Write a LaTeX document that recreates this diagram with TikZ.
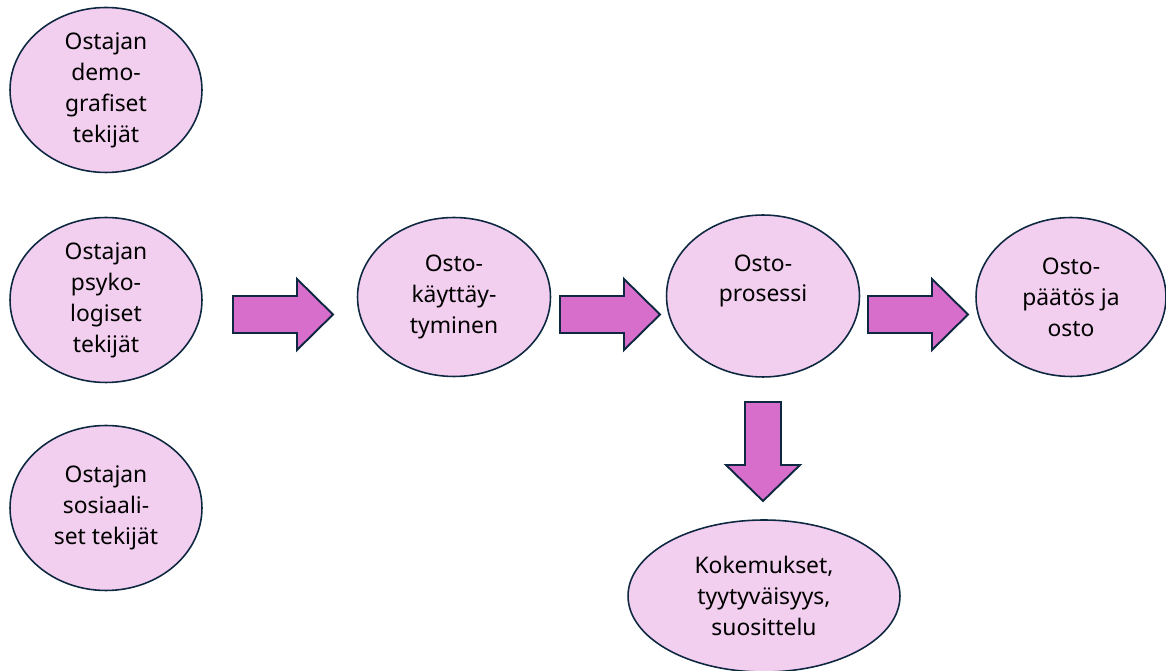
\documentclass[tikz,border=0pt]{standalone}
\usepackage{fontspec}
\setmainfont{Noto Sans}
\usetikzlibrary{shapes.geometric}
\definecolor{epink}{HTML}{F2CEEF}
\definecolor{apink}{HTML}{D86ECC}
\definecolor{navy}{HTML}{0E2841}

\begin{document}
\begin{tikzpicture}[x=0.02cm, y=-0.02cm,
    factor/.style={ellipse, draw=navy, line width=0.9pt, fill=epink,
      inner sep=0pt, align=center, minimum width=3.84cm, minimum height=3.3cm,
      font=\fontsize{13}{17.6}\selectfont},
    blockarrow/.style={draw=navy, line width=1.1pt, fill=apink, line join=miter}]
    \useasboundingbox (0, 0) rectangle (1166, 671);

    % left column
    \node [factor] (demog) at (106, 90) {Ostajan\\demo-\\grafiset\\tekijät};
    \node [factor] (psyko) at (106, 300) {Ostajan\\psyko-\\logiset\\tekijät};
    \node [factor] (sosiaal) at (106, 508) {Ostajan\\sosiaali-\\set tekijät};

    % main row
    \node [factor, minimum width=3.86cm, minimum height=3.18cm] (kaytt) at (454, 297) {Osto-\\käyttäy-\\tyminen};
    \node [factor, minimum width=3.86cm, minimum height=3.24cm] (prosessi) at (763, 296) {};
    \node [align=center, font=\fontsize{13}{17.6}\selectfont] at (763, 281) {Osto-\\prosessi};
    \node [factor, minimum width=3.8cm, minimum height=3.18cm] (paatos) at (1071, 297) {Osto-\\päätös ja\\osto};
    \node [factor, minimum width=5.44cm, minimum height=3.04cm] (kokem) at (764, 596) {Kokemukset,\\tyytyväisyys,\\suosittelu};

    % block arrows
    \foreach \dx in {0, 327, 635}
      \draw [blockarrow, xshift=\dx*0.02cm] (233, 296) -- (297, 296) -- (297, 279) -- (333, 314.5)
        -- (297, 350) -- (297, 333) -- (233, 333) -- cycle;
    \draw [blockarrow] (745, 402) -- (781, 402) -- (781, 465) -- (800, 465) -- (763, 501)
      -- (726, 465) -- (745, 465) -- cycle;
\end{tikzpicture}
\end{document}
